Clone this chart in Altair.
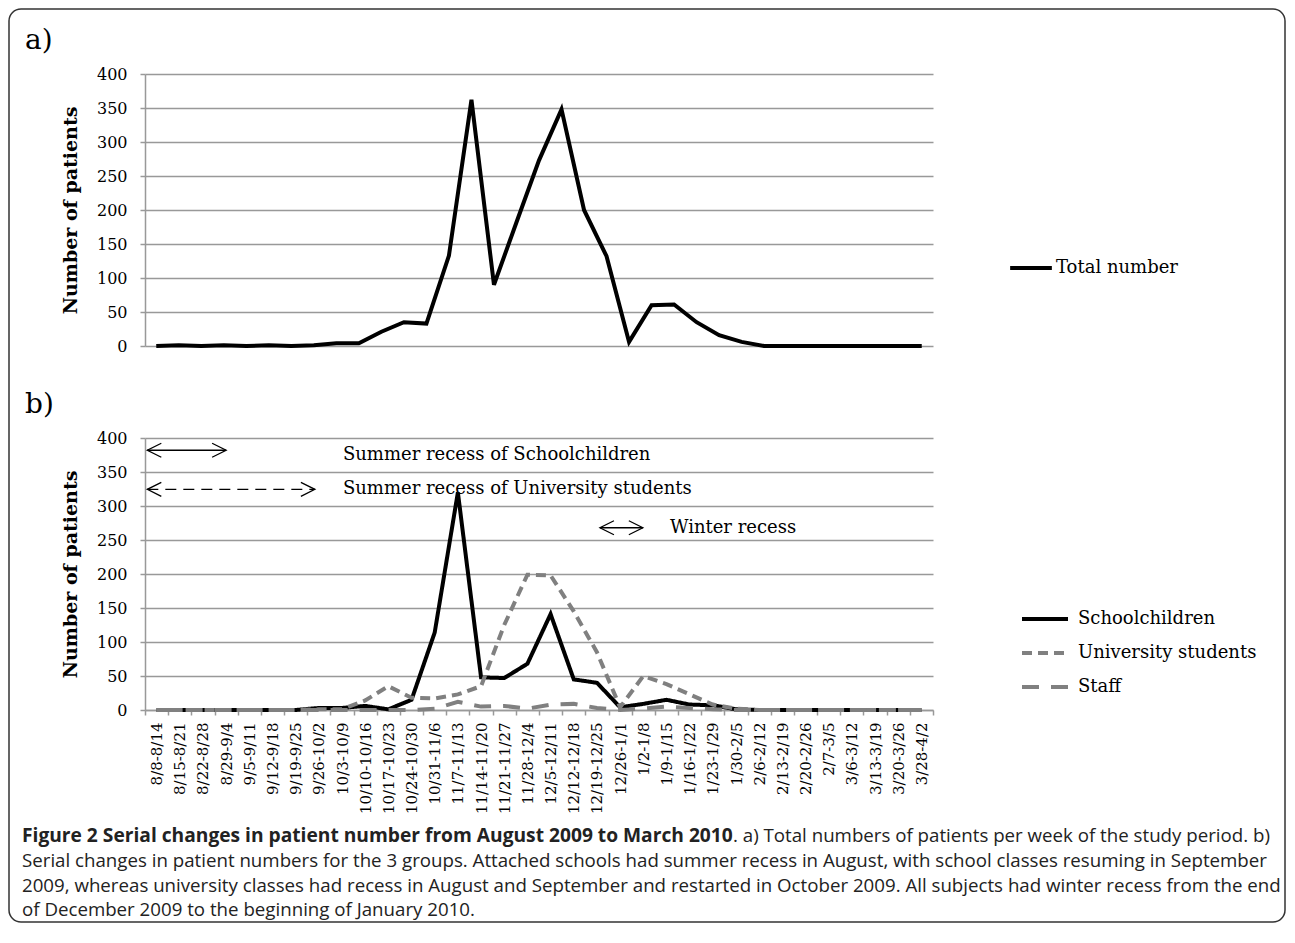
import altair as alt
import pandas as pd

# ---------------- data ----------------
weeks = ["8/8-8/14", "8/15-8/21", "8/22-8/28", "8/29-9/4", "9/5-9/11", "9/12-9/18",
         "9/19-9/25", "9/26-10/2", "10/3-10/9", "10/10-10/16", "10/17-10/23",
         "10/24-10/30", "10/31-11/6", "11/7-11/13", "11/14-11/20", "11/21-11/27",
         "11/28-12/4", "12/5-12/11", "12/12-12/18", "12/19-12/25", "12/26-1/1",
         "1/2-1/8", "1/9-1/15", "1/16-1/22", "1/23-1/29", "1/30-2/5", "2/6-2/12",
         "2/13-2/19", "2/20-2/26", "2/7-3/5", "3/6-3/12", "3/13-3/19", "3/20-3/26",
         "3/28-4/2"]

total_weeks = list(range(1, 36))
total = [0, 1, 0, 1, 0, 1, 0, 1, 4, 4, 21, 35, 33, 133, 362, 90, 182, 273, 348, 200,
         132, 6, 60, 61, 35, 16, 6, 0, 0, 0, 0, 0, 0, 0, 0]

groups = ["Schoolchildren", "University students", "Staff"]
school = [0, 0, 0, 0, 0, 0, 0, 3, 3, 6, 1, 15, 114, 320, 48, 47, 68, 141, 45, 40,
          4, 9, 15, 8, 7, 1, 0, 0, 0, 0, 0, 0, 0, 0]
univ = [0, 0, 0, 0, 0, 0, 0, 1, 1, 14, 35, 18, 17, 23, 35, 125, 199, 198, 145, 85,
        4, 50, 38, 23, 8, 2, 0, 0, 0, 0, 0, 0, 0, 0]
staff = [0, 0, 0, 0, 0, 0, 0, 0, 0, 0, 0, 0, 2, 12, 5, 6, 2, 8, 9, 3,
         0, 2, 5, 3, 1, 0, 0, 0, 0, 0, 0, 0, 0, 0]

# recess arrows (week position, value level)
arrow_start = [0.1, 0.1, 19.63]
arrow_end = [3.5, 7.33, 21.48]
arrow_level = [382, 324.5, 268]
arrow_kind = ["solid", "dashed", "solid"]

note_x = [8.54, 8.54, 22.65]
note_y = [375, 324.5, 268]
note_text = ["Summer recess of Schoolchildren", "Summer recess of University students",
             "Winter recess"]

caption_bold = "Figure 2 Serial changes in patient number from August 2009 to March 2010"
caption_rest = ". a) Total numbers of patients per week of the study period. b)"
caption_lines = [
    "Serial changes in patient numbers for the 3 groups. Attached schools had summer recess in August, with school classes resuming in September",
    "2009, whereas university classes had recess in August and September and restarted in October 2009. All subjects had winter recess from the end",
    "of December 2009 to the beginning of January 2010.",
]

# ---------------- style ----------------
FONT = "DejaVu Serif"
CAP_FONT = "Open Sans"
GRID = "#999999"
W, H = 788, 272

dfa = pd.DataFrame({"wk": total_weeks, "value": total, "series": "Total number"})
rows = []
for g, vals in zip(groups, [school, univ, staff]):
    for w, v in zip(weeks, vals):
        rows.append({"week": w, "group": g, "value": v})
dfb = pd.DataFrame(rows)
dfarrow = pd.DataFrame({"x0": arrow_start, "x1": arrow_end, "y": arrow_level, "kind": arrow_kind})
dfnote = pd.DataFrame({"x": note_x, "y": note_y, "label": note_text})

yscale = alt.Scale(domain=[0, 400], nice=False, zero=True)


def yaxis():
    return alt.Axis(values=list(range(0, 401, 50)), title="Number of patients", grid=True,
                    gridColor=GRID, gridWidth=1.5, domainColor=GRID, domainWidth=1.5,
                    tickColor=GRID, tickWidth=1.5, tickSize=5, labelFont=FONT,
                    labelFontSize=16, labelPadding=13, labelColor="black",
                    titleFont=FONT, titleFontSize=19, titleFontWeight="bold",
                    titlePadding=16, titleColor="black")


one = pd.DataFrame({"k": [0]})

# ---------------- panel a ----------------
line_a = alt.Chart(dfa).mark_line(strokeWidth=4).encode(
    x=alt.X("wk:O", axis=None, scale=alt.Scale(type="point", padding=0.5)),
    y=alt.Y("value:Q", scale=yscale, axis=yaxis()),
    color=alt.Color("series:N", scale=alt.Scale(domain=["Total number"], range=["black"]),
                    legend=alt.Legend(title=None, orient="none", legendX=863, legendY=171,
                                      symbolType="stroke", symbolSize=1740,
                                      symbolStrokeWidth=4, labelFont=FONT,
                                      labelFontSize=18, labelOffset=2, padding=0,
                                      labelColor="black", labelLimit=0)),
)
frame = alt.Chart(one).mark_rect(fillOpacity=0, stroke="#333333", strokeWidth=1.5,
                                 cornerRadius=12).encode(
    x=alt.value(-136), x2=alt.value(1140), y=alt.value(-65), y2=alt.value(848))
label_a = alt.Chart(one).mark_text(align="left", baseline="middle", font=FONT,
                                   fontSize=28, color="black").encode(
    x=alt.value(-120), y=alt.value(-33), text=alt.value("a)"))
panel_a = alt.layer(line_a, label_a, frame).properties(width=W, height=H)

# ---------------- panel b ----------------
leg_b = alt.Legend(title=None, orient="none", legendX=875, legendY=156,
                   symbolType="stroke", symbolSize=2116, symbolStrokeWidth=4,
                   labelFont=FONT, labelFontSize=18, labelOffset=8, padding=0,
                   rowPadding=-7, labelColor="black", labelLimit=0)
lines_b = alt.Chart(dfb).mark_line(strokeWidth=4).encode(
    x=alt.X("week:N", sort=weeks, bandPosition=0.5,
            scale=alt.Scale(type="band", paddingInner=0, paddingOuter=0),
            axis=alt.Axis(title=None, tickBand="extent", labelAngle=270, labelFont=FONT,
                          labelFontSize=15, labelColor="black", labelPadding=7,
                          tickColor=GRID, tickWidth=1.5, tickSize=5, domainColor=GRID,
                          domainWidth=1.5, labelOverlap=False)),
    y=alt.Y("value:Q", scale=yscale, axis=yaxis()),
    color=alt.Color("group:N", sort=groups,
                    scale=alt.Scale(domain=groups, range=["black", "#808080", "#808080"]),
                    legend=leg_b),
    strokeDash=alt.StrokeDash("group:N", sort=groups,
                              scale=alt.Scale(domain=groups,
                                              range=[[1, 0], [10, 6], [17, 12]]),
                              legend=leg_b),
)

xq = alt.Scale(domain=[0, len(weeks)], nice=False, zero=False)
base_arrow = alt.Chart(dfarrow)
rule_solid = base_arrow.transform_filter(alt.datum.kind == "solid").mark_rule(
    color="black", strokeWidth=1.3).encode(
    x=alt.X("x0:Q", scale=xq, axis=None), x2="x1:Q",
    y=alt.Y("y:Q", scale=yscale, axis=yaxis()))
rule_dash = base_arrow.transform_filter(alt.datum.kind == "dashed").mark_rule(
    color="black", strokeWidth=1.3, strokeDash=[11, 7]).encode(
    x=alt.X("x0:Q", scale=xq, axis=None), x2="x1:Q",
    y=alt.Y("y:Q", scale=yscale, axis=yaxis()))
head_l = base_arrow.mark_point(shape="M1,-0.5L0,0L1,0.5", filled=False, color="black",
                               strokeWidth=1.3, size=784, opacity=1).encode(
    x=alt.X("x0:Q", scale=xq, axis=None),
    y=alt.Y("y:Q", scale=yscale, axis=yaxis()))
head_r = base_arrow.mark_point(shape="M-1,-0.5L0,0L-1,0.5", filled=False, color="black",
                               strokeWidth=1.3, size=784, opacity=1).encode(
    x=alt.X("x1:Q", scale=xq, axis=None),
    y=alt.Y("y:Q", scale=yscale, axis=yaxis()))
notes = alt.Chart(dfnote).mark_text(align="left", baseline="middle", font=FONT,
                                    fontSize=18, color="black").encode(
    x=alt.X("x:Q", scale=xq, axis=None),
    y=alt.Y("y:Q", scale=yscale, axis=yaxis()),
    text="label:N")

label_b = alt.Chart(one).mark_text(align="left", baseline="middle", font=FONT,
                                   fontSize=28, color="black").encode(
    x=alt.value(-120), y=alt.value(-33), text=alt.value("b)"))

CAP = 18.7
cap_b = alt.Chart(one).mark_text(align="left", baseline="middle", font=CAP_FONT,
                                 fontSize=19.2, fontWeight="bold", color="#222222").encode(
    x=alt.value(-123), y=alt.value(398), text=alt.value(caption_bold))
cap_r = alt.Chart(one).mark_text(align="left", baseline="middle", font=CAP_FONT,
                                 fontSize=CAP, color="#222222").encode(
    x=alt.value(588), y=alt.value(398), text=alt.value(caption_rest))
cap_lines = []
for i, txt in enumerate(caption_lines):
    cap_lines.append(alt.Chart(one).mark_text(align="left", baseline="middle",
                                              font=CAP_FONT, fontSize=CAP,
                                              color="#222222").encode(
        x=alt.value(-123), y=alt.value(423 + 24.5 * i), text=alt.value(txt)))

panel_b = alt.layer(lines_b, rule_solid, rule_dash, head_l, head_r, notes, label_b,
                    cap_b, cap_r, *cap_lines).resolve_scale(x="independent").properties(
    width=W, height=H)

chart = alt.vconcat(panel_a, panel_b, spacing=92, bounds="flush").resolve_scale(
    x="independent", y="independent", color="independent", strokeDash="independent"
).resolve_legend(color="independent", strokeDash="independent").properties(
    padding=0, background="white").configure_view(stroke=None)

chart.save("out.html", embed_options={"renderer": "svg", "actions": False})
